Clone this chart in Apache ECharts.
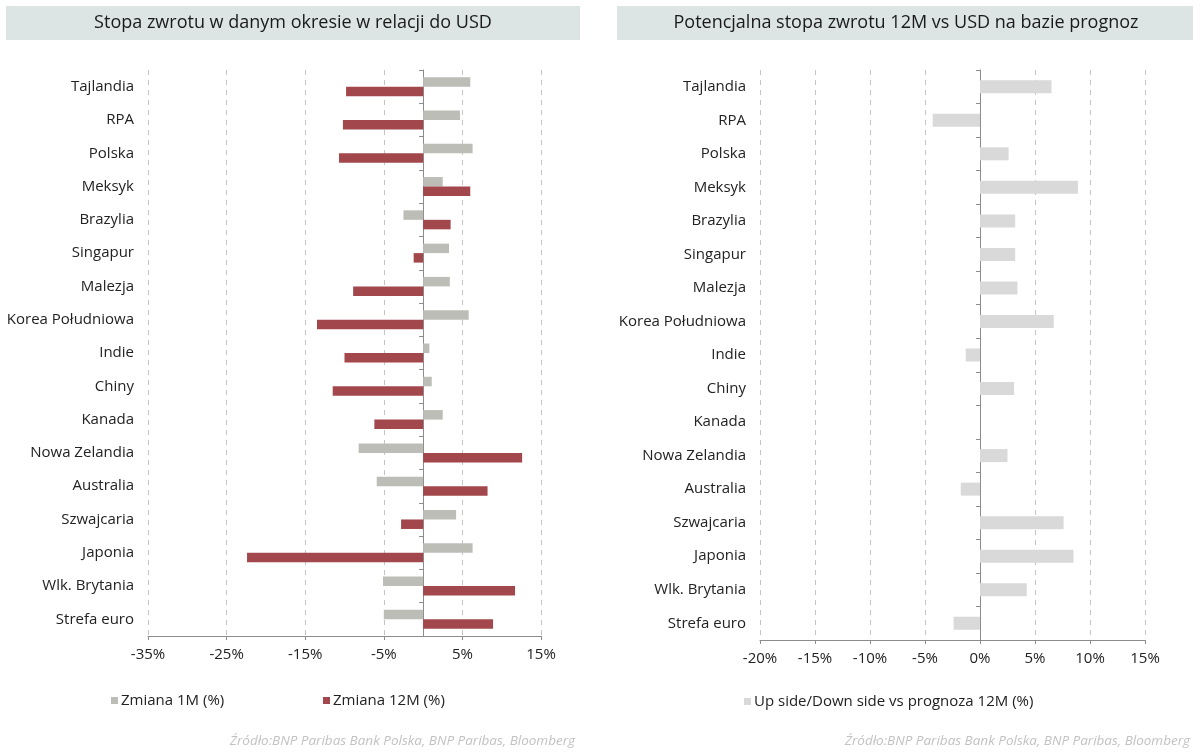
<!DOCTYPE html>
<html>
<head>
<meta charset="utf-8">
<script src="https://cdn.jsdelivr.net/npm/echarts@6/dist/echarts.min.js"></script>
<style>
  html, body { margin: 0; padding: 0; background: #fff; }
  #chart { width: 1200px; height: 754px; }
</style>
</head>
<body>
<div id="chart"></div>
<script>
const categories = ['Tajlandia','RPA','Polska','Meksyk','Brazylia','Singapur','Malezja','Korea Południowa','Indie','Chiny','Kanada','Nowa Zelandia','Australia','Szwajcaria','Japonia','Wlk. Brytania','Strefa euro'];
const change1M = [6.0, 4.7, 6.3, 2.5, -2.5, 3.3, 3.4, 5.8, 0.8, 1.1, 2.5, -8.2, -5.9, 4.2, 6.3, -5.1, -5.0];
const change12M = [-9.8, -10.2, -10.7, 6.0, 3.5, -1.2, -8.9, -13.5, -10.0, -11.5, -6.2, 12.6, 8.2, -2.8, -22.4, 11.7, 8.9];
const upside12M = [6.5, -4.3, 2.6, 8.9, 3.2, 3.2, 3.4, 6.7, -1.3, 3.1, 0, 2.5, -1.75, 7.6, 8.5, 4.25, -2.4];

const leftTitle = 'Stopa zwrotu w danym okresie w relacji do USD';
const rightTitle = 'Potencjalna stopa zwrotu 12M vs USD na bazie prognoz';
const sourceText = 'Źródło:BNP Paribas Bank Polska, BNP Paribas, Bloomberg';
const name1M = 'Zmiana 1M (%)';
const name12M = 'Zmiana 12M (%)';
const nameUp = 'Up side/Down side vs prognoza 12M (%)';

const FONT = 'Open Sans';
const TXT = '#222';
const AXIS = '#8c8c8c';
const GRIDC = '#c4c4c4';

function valueAxis(gridIndex, min, max, interval) {
  return {
    type: 'value', gridIndex, min, max, interval,
    axisLine: { show: true, lineStyle: { color: AXIS, width: 1 } },
    axisTick: { show: true, length: 4, lineStyle: { color: AXIS } },
    axisLabel: { formatter: v => v + '%', color: TXT, fontFamily: FONT, fontSize: 15, margin: 11 },
    splitLine: { show: true, lineStyle: { color: GRIDC, type: [5, 5], width: 1 } }
  };
}
function labelAxis(gridIndex) {
  return {
    type: 'category', gridIndex, data: categories, inverse: true,
    axisLine: { show: false, onZero: false },
    axisTick: { show: false },
    axisLabel: { color: TXT, fontFamily: FONT, fontSize: 15, margin: 14 },
    splitLine: { show: false }
  };
}
function zeroAxis(gridIndex) {
  return {
    type: 'category', gridIndex, data: categories, inverse: true, position: 'left',
    axisLine: { show: true, onZero: true, lineStyle: { color: AXIS, width: 1 } },
    axisTick: { show: true, length: 4, lineStyle: { color: AXIS } },
    axisLabel: { show: false },
    splitLine: { show: false }
  };
}

const legendText = { color: TXT, fontFamily: FONT, fontSize: 15, padding: [0, 0, 0, -2] };

const chart = echarts.init(document.getElementById('chart'), null, { renderer: 'canvas' });
chart.setOption({
  animation: false,
  backgroundColor: '#fff',
  textStyle: { fontFamily: FONT },
  grid: [
    { left: 148, top: 70, width: 393, height: 566 },
    { left: 760, top: 70, width: 385, height: 570 }
  ],
  xAxis: [ valueAxis(0, -35, 15, 10), valueAxis(1, -20, 15, 5) ],
  yAxis: [ labelAxis(0), zeroAxis(0), labelAxis(1), zeroAxis(1) ],
  legend: [
    { data: [name1M], left: 106, top: 688, itemWidth: 7, itemHeight: 7, icon: 'rect', textStyle: legendText },
    { data: [name12M], left: 318, top: 688, itemWidth: 7, itemHeight: 7, icon: 'rect', textStyle: legendText },
    { data: [nameUp], left: 739, top: 689, itemWidth: 7, itemHeight: 7, icon: 'rect', textStyle: legendText }
  ],
  series: [
    { name: name1M, type: 'bar', xAxisIndex: 0, yAxisIndex: 0, data: change1M,
      barWidth: 9.5, barGap: '0%', itemStyle: { color: '#bdbdb7' } },
    { name: name12M, type: 'bar', xAxisIndex: 0, yAxisIndex: 0, data: change12M,
      barWidth: 9.5, barGap: '0%', itemStyle: { color: '#a2474b' } },
    { name: nameUp, type: 'bar', xAxisIndex: 1, yAxisIndex: 2, data: upside12M,
      barWidth: 13, itemStyle: { color: '#d9d9d9' } }
  ],
  graphic: [
    { type: 'rect', left: 6, top: 6, shape: { width: 574, height: 34 }, style: { fill: '#dce4e4' }, silent: true },
    { type: 'rect', left: 617, top: 6, shape: { width: 576, height: 34 }, style: { fill: '#dce4e4' }, silent: true },
    { type: 'text', x: 293, y: 23, style: { text: leftTitle, fill: '#1a1a1a', font: '18px "' + FONT + '"', textAlign: 'center', textVerticalAlign: 'middle' } },
    { type: 'text', x: 906, y: 23, style: { text: rightTitle, fill: '#1a1a1a', font: '18px "' + FONT + '"', textAlign: 'center', textVerticalAlign: 'middle' } },
    { type: 'text', x: 575, y: 741, style: { text: sourceText, fill: '#c2c2c2', font: 'italic 13.5px "' + FONT + '"', textAlign: 'right', textVerticalAlign: 'middle' } },
    { type: 'text', x: 1190, y: 741, style: { text: sourceText, fill: '#c2c2c2', font: 'italic 13.5px "' + FONT + '"', textAlign: 'right', textVerticalAlign: 'middle' } }
  ]
});
</script>
</body>
</html>
